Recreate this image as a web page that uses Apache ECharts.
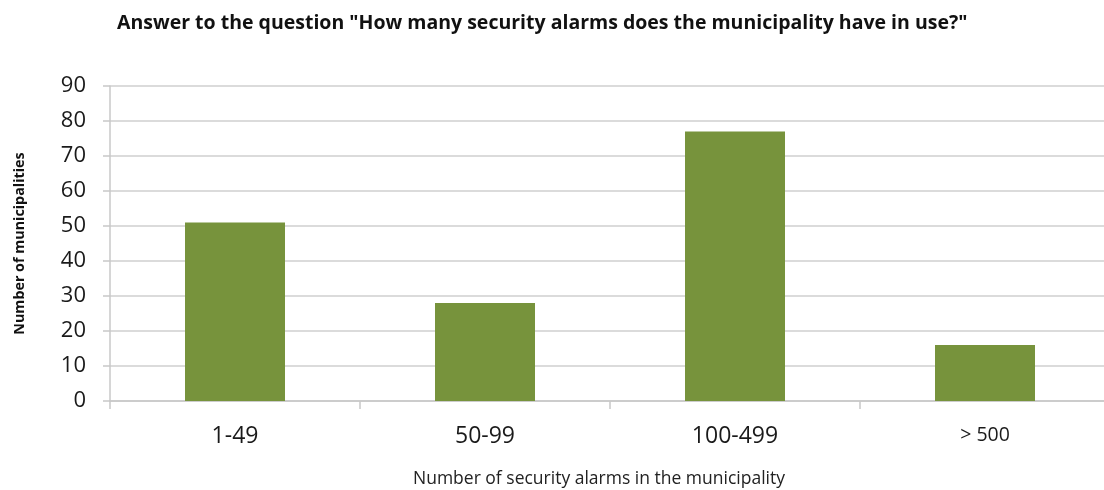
<!DOCTYPE html>
<html><head><meta charset="utf-8">
<script src="https://cdn.jsdelivr.net/npm/echarts@6/dist/echarts.min.js"></script>
<style>html,body{margin:0;padding:0;background:#fff}#c{width:1104px;height:490px}</style>
</head><body><div id="c"></div>
<script>
const categories = ['1-49', '50-99', '100-499', '> 500'];
const values = [51, 28, 77, 16];
const yTicks = { min: 0, max: 90, interval: 10 };
const titleText = 'Answer to the question "How many security alarms does the municipality have in use?"';
const yName = 'Number of municipalities';
const xName = 'Number of security alarms in the municipality';

const chart = echarts.init(document.getElementById('c'), null, { renderer: 'canvas' });
const FONT = "'Open Sans', 'Noto Sans', sans-serif";
chart.setOption({
  animation: false,
  textStyle: { fontFamily: FONT },
  title: [
    { text: titleText, left: 112, top: 8, textStyle: { fontFamily: FONT, fontSize: 19.5, fontWeight: 'bold', color: '#111' } },
    { text: xName, left: 594, top: 465, textAlign: 'center', textStyle: { fontFamily: FONT, fontSize: 17.5, fontWeight: 'normal', color: '#222' } }
  ],
  grid: { left: 110, width: 1000, top: 86, bottom: 89, containLabel: false, outerBoundsMode: 'none' },
  xAxis: {
    type: 'category', data: categories,
    axisLine: { lineStyle: { color: '#c8c8c8', width: 1.5 } },
    axisTick: { show: true, length: 8, alignWithLabel: false, lineStyle: { color: '#c8c8c8', width: 1.5 } },
    axisLabel: {
      margin: 24, color: '#1a1a1a', fontFamily: FONT, fontSize: 23,
      formatter: function (v) { return v === '> 500' ? '{s|' + v + '}' : v; },
      rich: { s: { fontSize: 19.5, fontFamily: FONT, color: '#1a1a1a' } }
    }
  },
  yAxis: {
    type: 'value', min: yTicks.min, max: yTicks.max, interval: yTicks.interval,
    name: yName, nameLocation: 'middle', nameGap: 83, nameRotate: 90,
    nameTextStyle: { fontFamily: FONT, fontSize: 14.3, fontWeight: 'bold', color: '#111' },
    axisLine: { show: true, lineStyle: { color: '#c8c8c8', width: 1.5 } },
    axisTick: { show: true, length: 7, lineStyle: { color: '#c8c8c8', width: 1.5 } },
    axisLabel: { margin: 24, color: '#1a1a1a', fontFamily: FONT, fontSize: 22 },
    splitLine: { lineStyle: { color: '#cfcfcf', width: 1.5 } }
  },
  series: [{
    type: 'bar', data: values, barWidth: 100,
    itemStyle: { color: '#77933C' }
  }]
});
</script></body></html>
